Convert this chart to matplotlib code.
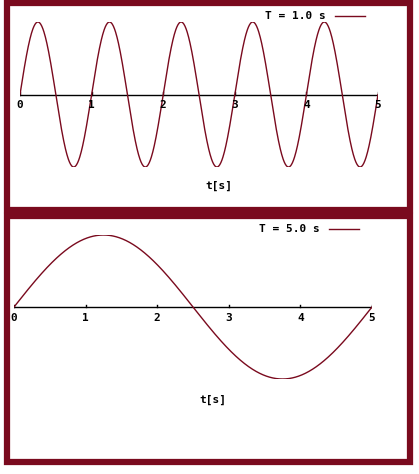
import numpy as np
import matplotlib.pyplot as plt
from matplotlib.patches import Rectangle

W, H = 419, 474
periods = [1.0, 5.0]
ticks = [0, 1, 2, 3, 4, 5]
t = np.linspace(0, 5, 1001)
red = '#7a0a1e'

# pixel boxes: (border left, top, right, bottom), (axes left, top, right, bottom)
frames = [(7, 3, 410, 210), (7, 216, 410, 462)]
boxes = [(20, 22, 378, 167), (14, 235, 372, 379)]
label_y = [186, 400]
legend_y = [16, 229]

fig = plt.figure(figsize=(W / 100, H / 100), dpi=100)
mono = dict(family='DejaVu Sans Mono', fontweight='bold', fontsize=8)

for T, fr, bx, ly, gy in zip(periods, frames, boxes, label_y, legend_y):
    l, tp, r, b = fr
    fig.patches.append(Rectangle((l / W, 1 - b / H), (r - l) / W, (b - tp) / H,
                                 transform=fig.transFigure, fill=False,
                                 edgecolor=red, linewidth=4.5))
    l, tp, r, b = bx
    ax = fig.add_axes([l / W, 1 - b / H, (r - l) / W, (b - tp) / H])
    ax.set_xlim(0, 5)
    ax.set_ylim(-1, 1)
    ax.axis('off')
    ax.axhline(0, color='black', lw=1)
    for k in ticks:
        ax.plot([k, k], [0, 0.03], color='black', lw=1)
        ax.text(k, -0.08, str(k), ha='center', va='top', **mono)
    ax.plot(t, np.sin(2 * np.pi * t / T), color=red, lw=1)
    fig.text(((l + r) / 2 + 20) / W, 1 - ly / H, 't[s]', ha='center', va='center', **mono)
    fig.text((l + 245) / W, 1 - gy / H, f'T = {T:.1f} s', ha='left', va='center', **mono)
    fig.add_artist(plt.Line2D([(l + 315) / W, (l + 345) / W], [1 - gy / H] * 2,
                              transform=fig.transFigure, color=red, lw=1))

fig.savefig('out.png', dpi=100)
